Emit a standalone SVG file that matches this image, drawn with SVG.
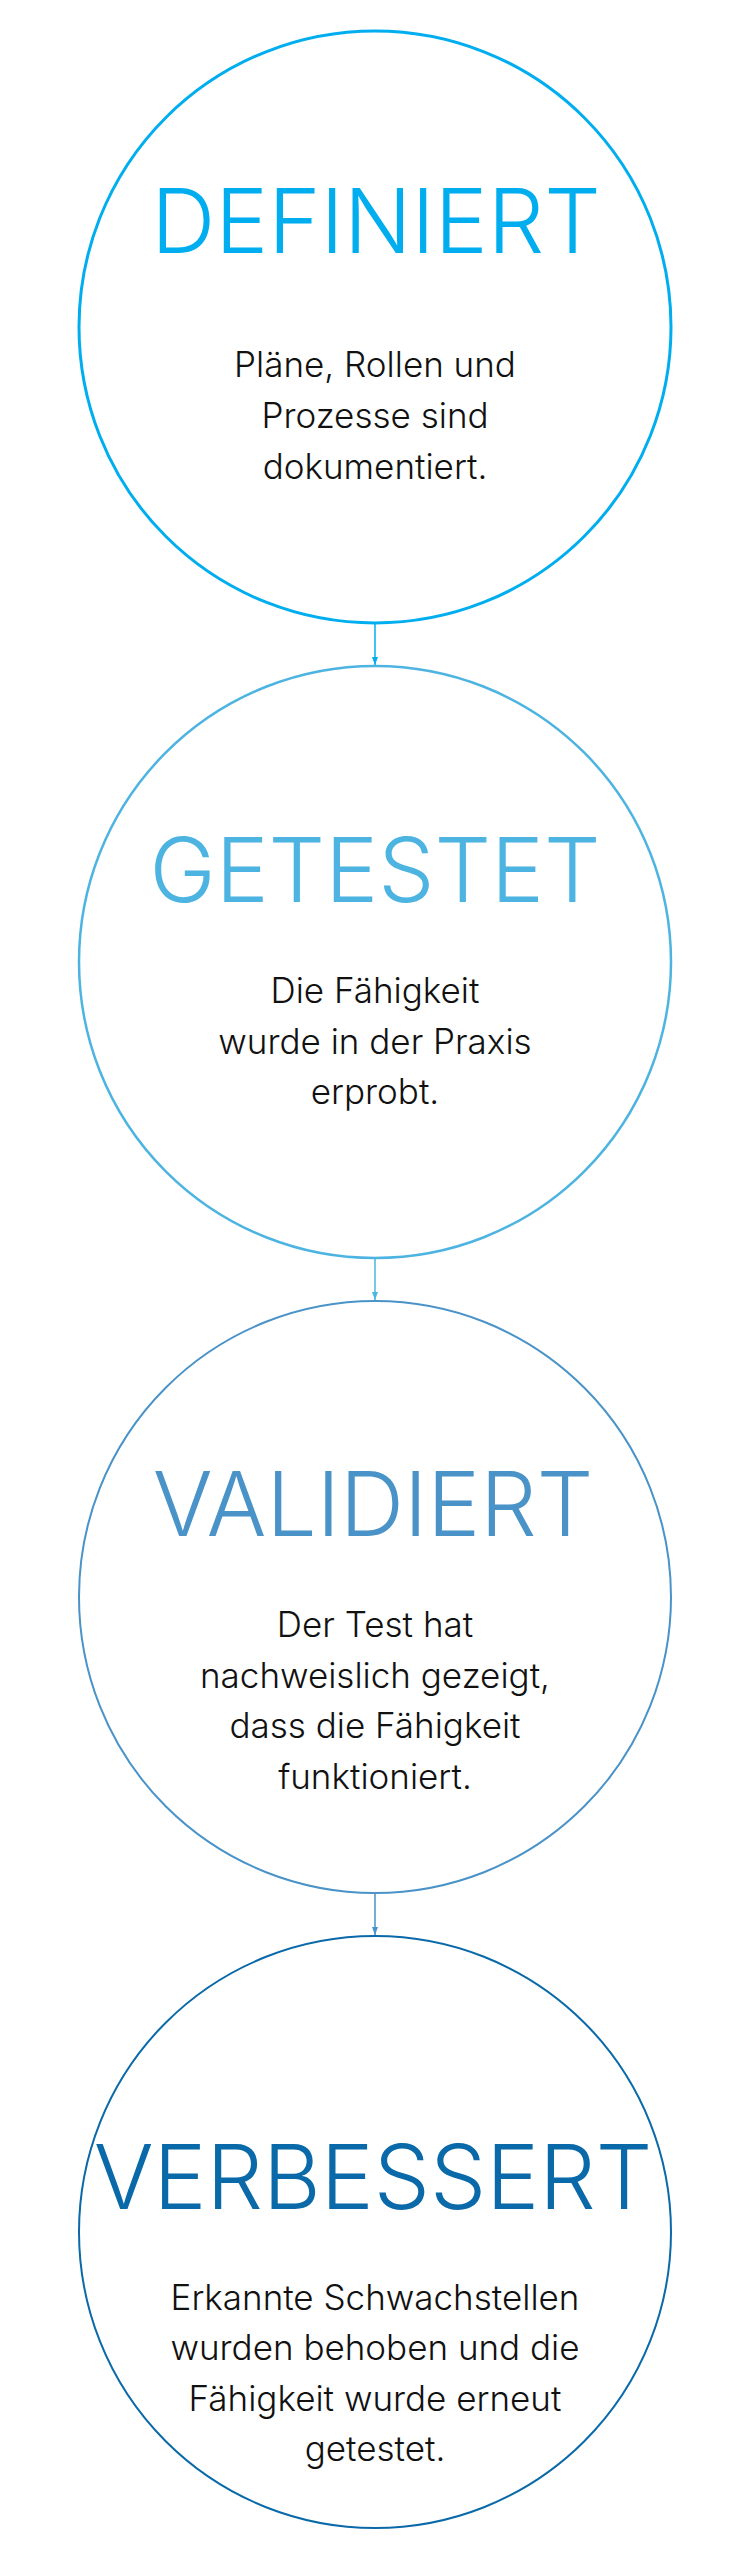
<svg xmlns="http://www.w3.org/2000/svg" width="751" height="2560" viewBox="0 0 751 2560">
<style>
.ring{fill:#ffffff}
.title{font-family:Inter,"Liberation Sans",sans-serif;font-weight:300;font-size:89px;text-anchor:middle}
.body{font-family:Inter,"Liberation Sans",sans-serif;font-weight:300;font-size:35px;fill:#111111;text-anchor:middle}
.conn{fill:none;stroke-width:1.5}
</style>
<defs>
<marker id="ah1" viewBox="0 0 8 6" refX="8" refY="3" markerWidth="8" markerHeight="6" markerUnits="userSpaceOnUse" orient="auto"><path d="M0,0 L8,3 L0,6 Z" fill="#00AEEF"/></marker>
<marker id="ah2" viewBox="0 0 8 6" refX="8" refY="3" markerWidth="8" markerHeight="6" markerUnits="userSpaceOnUse" orient="auto"><path d="M0,0 L8,3 L0,6 Z" fill="#4DB4E2"/></marker>
<marker id="ah3" viewBox="0 0 8 6" refX="8" refY="3" markerWidth="8" markerHeight="6" markerUnits="userSpaceOnUse" orient="auto"><path d="M0,0 L8,3 L0,6 Z" fill="#4A93C8"/></marker>
</defs>
<rect width="751" height="2560" fill="#ffffff"/>
<g id="connectors">
<line class="conn" x1="375" y1="624" x2="375" y2="665" stroke="#00AEEF" marker-end="url(#ah1)"/>
<line class="conn" x1="375" y1="1259" x2="375" y2="1300" stroke="#4DB4E2" marker-end="url(#ah2)"/>
<line class="conn" x1="375" y1="1894" x2="375" y2="1935" stroke="#4A93C8" marker-end="url(#ah3)"/>
</g>
<g id="node-definiert">
<circle class="ring" cx="375" cy="327" r="296" stroke="#00AEEF" stroke-width="3"/>
<text class="title" x="376" y="253" fill="#00AEEF">DEFINIERT</text>
<text class="body" x="375" y="377">Pläne, Rollen und</text>
<text class="body" x="375" y="428">Prozesse sind</text>
<text class="body" x="375" y="479">dokumentiert.</text>
</g>
<g id="node-getestet">
<circle class="ring" cx="375" cy="962" r="296" stroke="#4DB4E2" stroke-width="2.5"/>
<text class="title" x="375" y="902" fill="#4DB4E2">GETESTET</text>
<text class="body" x="375" y="1003">Die Fähigkeit</text>
<text class="body" x="375" y="1054">wurde in der Praxis</text>
<text class="body" x="375" y="1104">erprobt.</text>
</g>
<g id="node-validiert">
<circle class="ring" cx="375" cy="1597" r="296" stroke="#4A93C8" stroke-width="2"/>
<text class="title" x="373" y="1536" fill="#4A93C8">VALIDIERT</text>
<text class="body" x="375" y="1637">Der Test hat</text>
<text class="body" x="375" y="1688">nachweislich gezeigt,</text>
<text class="body" x="375" y="1738">dass die Fähigkeit</text>
<text class="body" x="375" y="1789">funktioniert.</text>
</g>
<g id="node-verbessert">
<circle class="ring" cx="375" cy="2232" r="296" stroke="#0A69A8" stroke-width="2"/>
<text class="title" x="373" y="2209" fill="#0A69A8">VERBESSERT</text>
<text class="body" x="375" y="2310">Erkannte Schwachstellen</text>
<text class="body" x="375" y="2360">wurden behoben und die</text>
<text class="body" x="375" y="2411">Fähigkeit wurde erneut</text>
<text class="body" x="375" y="2461">getestet.</text>
</g>
</svg>
